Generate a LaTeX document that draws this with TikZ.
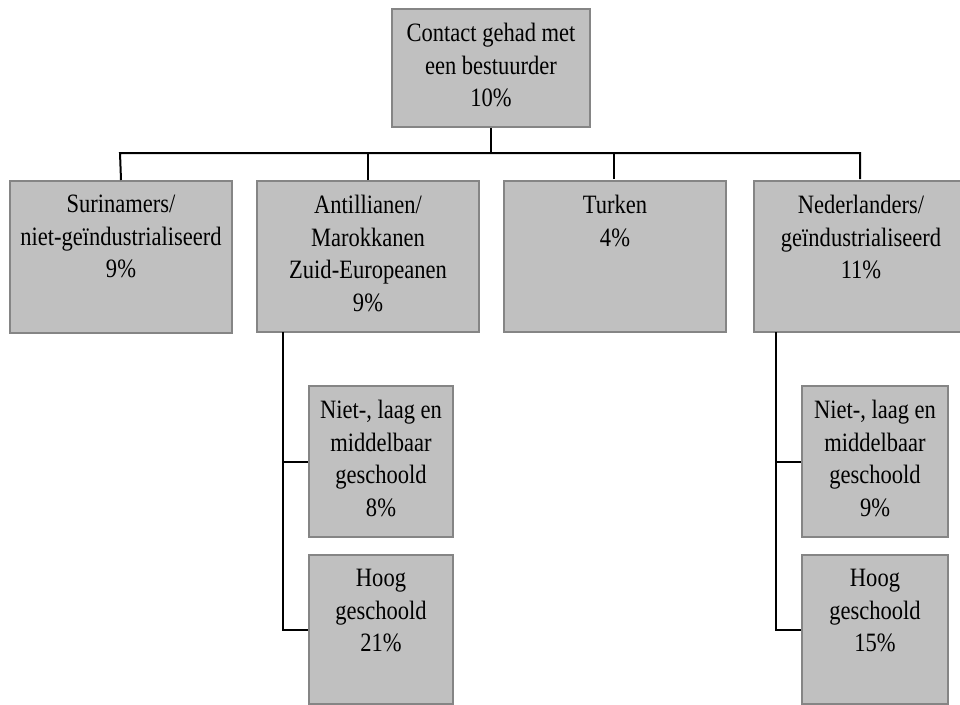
\documentclass[tikz,border=0pt]{standalone}
\usepackage{fontspec}
\setmainfont[FakeStretch=0.85]{Liberation Serif}
\definecolor{boxfill}{HTML}{C0C0C0}
\definecolor{boxline}{HTML}{858585}
\begin{document}
\begin{tikzpicture}[x=1pt,y=-1pt,
  box/.style={draw=boxline, fill=boxfill, line width=2pt, inner sep=0pt, anchor=north west, rectangle},
  conn/.style={draw=black, line width=2pt},
  lbl/.style={anchor=north, inner sep=0pt, yshift=-15pt, align=center, font=\fontsize{26.5}{32.5}\selectfont}
]
\useasboundingbox (0,0) rectangle (960,704);
% top
\node[box, minimum width=198pt, minimum height=118pt,
  label={[lbl]north:Contact gehad met\\een bestuurder\\10\%}] (top) at (391,8) {};
% level 1
\node[box, minimum width=222pt, minimum height=152pt,
  label={[lbl]north:Surinamers/\\niet-geïndustrialiseerd\\9\%}] (sur) at (9,180) {};
\node[box, minimum width=222pt, minimum height=151pt,
  label={[lbl]north:Antillianen/\\Marokkanen\\Zuid-Europeanen\\9\%}] (ant) at (256,180) {};
\node[box, minimum width=222pt, minimum height=151pt,
  label={[lbl]north:Turken\\4\%}] (tur) at (503,180) {};
\node[box, minimum width=214pt, minimum height=151pt,
  label={[lbl]north:Nederlanders/\\geïndustrialiseerd\\11\%}] (ned) at (753,180) {};
% level 2 left
\node[box, minimum width=144pt, minimum height=151pt,
  label={[lbl]north:Niet-, laag en\\middelbaar\\geschoold\\8\%}] (nietA) at (308,385) {};
\node[box, minimum width=144pt, minimum height=149pt,
  label={[lbl]north:Hoog\\geschoold\\21\%}] (hoogA) at (308,554) {};
% level 2 right
\node[box, minimum width=146pt, minimum height=151pt,
  label={[lbl]north:Niet-, laag en\\middelbaar\\geschoold\\9\%}] (nietN) at (801,385) {};
\node[box, minimum width=146pt, minimum height=149pt,
  label={[lbl]north:Hoog\\geschoold\\15\%}] (hoogN) at (801,554) {};
% connectors
\coordinate (barL) at (120,153);
\coordinate (barR) at (860,153);
\coordinate (nedin) at (860,179);
\coordinate (turin) at (614,179);
\coordinate (turbar) at (614,153);
\coordinate (antl) at (283,332);
\coordinate (nedl) at (776,332);
\draw[conn] (top.south) -- (top.south |- barL);
\draw[conn] (sur.north) -- (barL) -- (barR) -- (nedin);
\draw[conn] (ant.north) -- (ant.north |- barL);
\draw[conn] (turin) -- (turbar);
\draw[conn] (antl) -- (antl |- hoogA.west) -- (hoogA.west);
\draw[conn] (antl |- nietA.west) -- (nietA.west);
\draw[conn] (nedl) -- (nedl |- hoogN.west) -- (hoogN.west);
\draw[conn] (nedl |- nietN.west) -- (nietN.west);
\end{tikzpicture}
\end{document}
